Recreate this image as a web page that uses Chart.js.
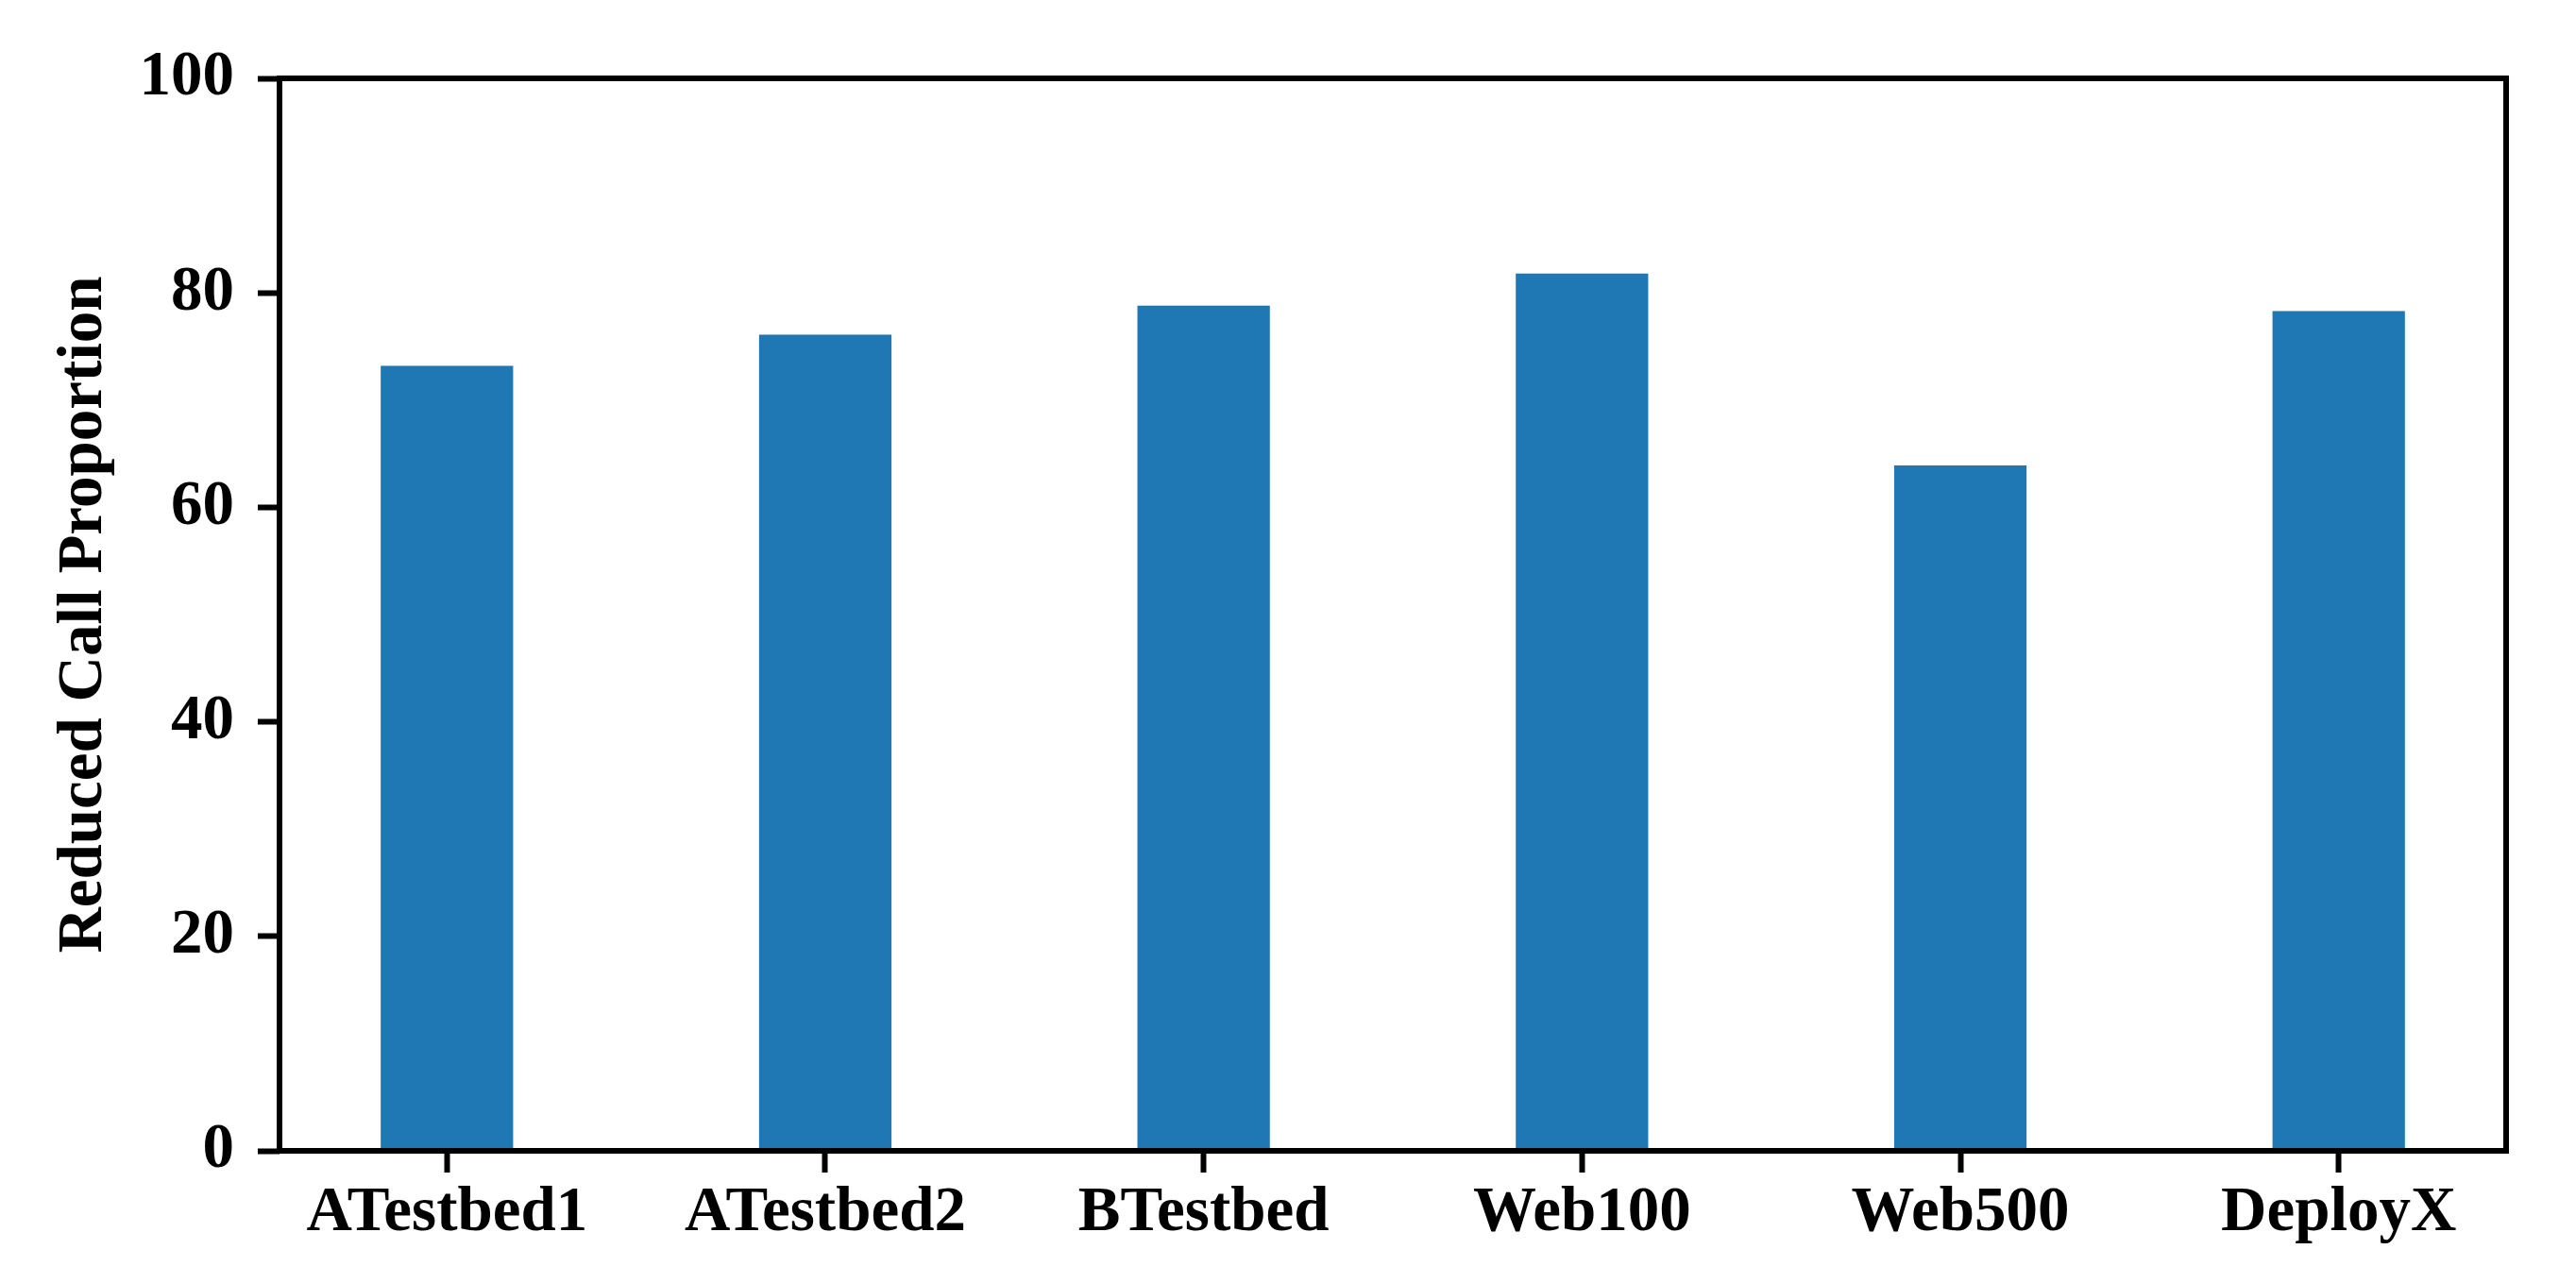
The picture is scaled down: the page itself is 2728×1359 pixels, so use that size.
<!DOCTYPE html>
<html>
<head>
<meta charset="utf-8">
<script src="https://cdn.jsdelivr.net/npm/chart.js@4"></script>
<style>
  html, body { margin: 0; padding: 0; background: #fff; }
  #wrap { width: 2728px; height: 1359px; }
</style>
</head>
<body>
<div id="wrap"><canvas id="barChart" width="2728" height="1359"></canvas></div>
<script>
// data
const categories = ['ATestbed1', 'ATestbed2', 'BTestbed', 'Web100', 'Web500', 'DeployX'];
const proportions = [73.2, 76.1, 78.8, 81.8, 63.9, 78.3];
const yTicks = [0, 20, 40, 60, 80, 100];

const serif = '"Liberation Serif", "Times New Roman", serif';
const fontSize = 67;

// draw the four spines on top of the bars
const frameBox = {
  id: 'frameBox',
  afterDatasetsDraw(chart) {
    const { ctx, chartArea } = chart;
    ctx.save();
    ctx.strokeStyle = '#000';
    ctx.lineWidth = 6;
    ctx.strokeRect(chartArea.left, chartArea.top,
      chartArea.right - chartArea.left, chartArea.bottom - chartArea.top);
    ctx.restore();
  }
};

const ctx = document.getElementById('barChart').getContext('2d');
const chart = new Chart(ctx, {
  type: 'bar',
  data: {
    datasets: [{
      label: 'Reduced Call Proportion',
      data: categories.map((c, i) => ({ x: i, y: proportions[i] })),
      backgroundColor: '#1f77b4',
      borderWidth: 0,
      categoryPercentage: 0.35,
      barPercentage: 1.0
    }]
  },
  options: {
    responsive: false,
    devicePixelRatio: 1,
    animation: false,
    layout: { padding: { left: 0, top: 83, right: 74, bottom: 0 } },
    plugins: {
      legend: { display: false },
      tooltip: { enabled: false }
    },
    scales: {
      x: {
        type: 'linear',
        offset: false,
        min: -0.4425,
        max: 5.4425,
        afterBuildTicks: (scale) => {
          scale.ticks = categories.map((c, i) => ({ value: i }));
        },
        afterFit: (scale) => { scale.height = 140; },
        border: { display: false },
        grid: {
          offset: false,
          drawOnChartArea: false,
          drawTicks: true,
          tickLength: 23,
          tickWidth: 6,
          tickColor: '#000'
        },
        ticks: {
          autoSkip: false,
          maxRotation: 0,
          padding: 3,
          color: '#000',
          font: { family: serif, size: fontSize, weight: 'bold' },
          callback: (v) => categories[v]
        }
      },
      y: {
        min: 0,
        max: 100,
        afterBuildTicks: (scale) => {
          scale.ticks = yTicks.map((v) => ({ value: v }));
        },
        afterFit: (scale) => { scale.width = 296; },
        border: { display: false },
        grid: {
          drawOnChartArea: false,
          drawTicks: true,
          tickLength: 23,
          tickWidth: 6,
          tickColor: '#000'
        },
        ticks: {
          padding: 25,
          color: '#000',
          font: { family: serif, size: fontSize, weight: 'bold' }
        },
        title: {
          display: true,
          text: 'Reduced Call Proportion',
          color: '#000',
          padding: { top: 49, bottom: 0 },
          font: { family: serif, size: fontSize, weight: 'bold', lineHeight: 1.2 }
        }
      }
    }
  },
  plugins: [frameBox]
});
</script>
</body>
</html>
